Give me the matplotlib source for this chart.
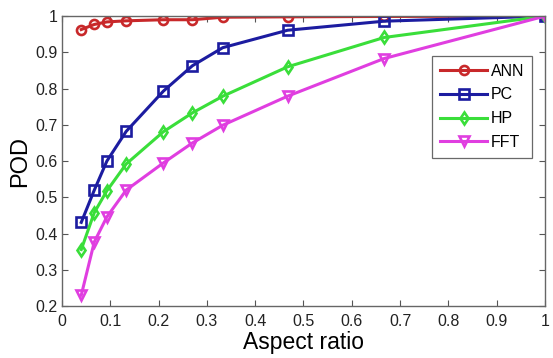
import matplotlib
matplotlib.use("Agg")
import matplotlib.pyplot as plt
import numpy as np

plt.rcParams['font.family'] = ['Liberation Sans', 'DejaVu Sans']

aspect = [0.04, 0.067, 0.093, 0.133, 0.21, 0.27, 0.333, 0.467, 0.667, 1.0]
ann = [0.963, 0.977, 0.984, 0.987, 0.99, 0.99, 0.997, 0.998, 0.999, 1.0]
pc = [0.431, 0.52, 0.60, 0.682, 0.793, 0.863, 0.913, 0.961, 0.986, 1.0]
hp = [0.356, 0.458, 0.518, 0.592, 0.681, 0.733, 0.779, 0.86, 0.941, 1.0]
fft = [0.23, 0.377, 0.446, 0.52, 0.595, 0.65, 0.699, 0.779, 0.883, 1.0]

series = [
    ("ANN", ann, "#c8282a", "o"),
    ("PC", pc, "#1c1ca0", "s"),
    ("HP", hp, "#3ade3a", "d"),
    ("FFT", fft, "#e03ee0", "v"),
]

fig = plt.figure(figsize=(5.53, 3.58), dpi=100)
ax = fig.add_axes([0.112, 0.145, 0.8735, 0.81])

for name, vals, col, mk in series:
    ax.plot(aspect, vals, color=col, marker=mk, markersize=6.5,
            markerfacecolor="none", markeredgewidth=1.9, linewidth=2.2,
            label=name)

ax.set_xlim(0, 1)
ax.set_ylim(0.2, 1)
ax.set_xticks(np.arange(0, 1.01, 0.1))
ax.set_xticklabels(["0", "0.1", "0.2", "0.3", "0.4", "0.5", "0.6", "0.7", "0.8", "0.9", "1"])
ax.set_yticks(np.arange(0.2, 1.01, 0.1))
ax.set_yticklabels(["0.2", "0.3", "0.4", "0.5", "0.6", "0.7", "0.8", "0.9", "1"])
ax.tick_params(direction="in", top=True, right=True, length=4, labelsize=11.5,
               colors="#555555", labelcolor="#222222")
ax.tick_params(axis="x", pad=6)
ax.tick_params(axis="y", pad=3)
for s in ax.spines.values():
    s.set_color("#666666")
    s.set_linewidth(1.0)

ax.set_xlabel("Aspect ratio", fontsize=16.5, labelpad=1)
ax.set_ylabel("POD", fontsize=17, labelpad=3)

leg = ax.legend(loc="upper right", bbox_to_anchor=(0.98, 0.875), fontsize=11.5,
                frameon=True, fancybox=False, edgecolor="#444444",
                handlelength=2.9, borderpad=0.5, labelspacing=0.55,
                handletextpad=0.25, borderaxespad=0.2)
leg.get_frame().set_linewidth(0.9)

fig.savefig("out.png", dpi=100)
